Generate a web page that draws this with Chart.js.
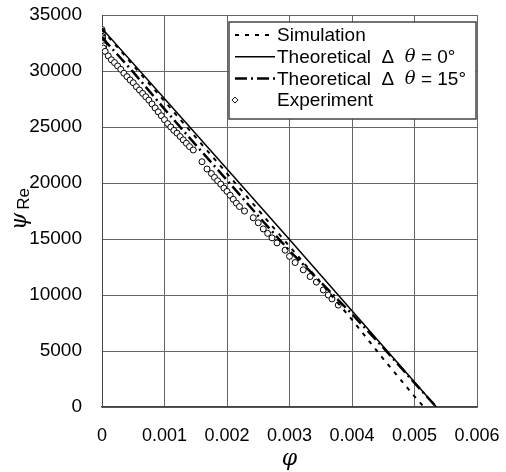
<!DOCTYPE html>
<html>
<head>
<meta charset="utf-8">
<script src="https://cdn.jsdelivr.net/npm/chart.js@4.4.0/dist/chart.umd.min.js"></script>
<style>
  html, body { margin: 0; background: #fff; }
</style>
</head>
<body>
<canvas id="grafico" width="506" height="472"></canvas>
<script>
// Simulation (short dashes)
const simPhi = [0, 0.001, 0.002, 0.003, 0.0035, 0.004, 0.0045, 0.005, 0.00515];
const simPsi = [33700, 27300, 20850, 14350, 11100, 7800, 4300, 950, 0];

// Theoretical, delta theta = 0 (solid)
const theo0Phi = [0, 0.0015, 0.003, 0.00535];
const theo0Psi = [33800, 24400, 14950, 0];

// Theoretical, delta theta = 15 (dash-dot)
const theo15Phi = [0, 0.0005, 0.001, 0.0015, 0.002, 0.0025, 0.003, 0.0035, 0.004, 0.0045, 0.005, 0.00535];
const theo15Psi = [33000, 29900, 26600, 23400, 20250, 17050, 13950, 11150, 8300, 5300, 2150, 0];

// Experiment (open markers)
const expPhi = [
  0, 0, 0, 0.00001, 0, 0.00001, 0, 0.00002, 0.00001, 0.00003, 0.00002,
  0.00005, 0.0001, 0.00015, 0.0002, 0.00025, 0.0003, 0.00035, 0.0004, 0.00045, 0.0005,
  0.00055, 0.0006, 0.00065, 0.0007, 0.00075, 0.0008, 0.00085, 0.0009, 0.00095, 0.001,
  0.00105, 0.0011, 0.00115, 0.0012, 0.00125, 0.0013, 0.00135, 0.0014, 0.00146, 0.0016,
  0.00168, 0.00175, 0.0018, 0.00185, 0.0019, 0.00195, 0.002, 0.00205, 0.0021, 0.00215,
  0.0022, 0.00228, 0.00242, 0.0025, 0.00258, 0.00265, 0.00272, 0.0028, 0.00293, 0.003,
  0.00309, 0.00322, 0.00333, 0.00343, 0.00354, 0.00362, 0.00368, 0.00378
];
const expPsi = [
  33700, 33550, 33400, 33250, 33100, 32950, 32800, 32600, 32450, 32250, 32050,
  31750, 31350, 31000, 30750, 30450, 30150, 29800, 29500, 29200, 28950,
  28600, 28300, 28000, 27700, 27400, 27050, 26700, 26350, 26000, 25650,
  25300, 25000, 24700, 24450, 24150, 23850, 23550, 23250, 22950, 21900,
  21250, 20850, 20500, 20200, 19900, 19550, 19250, 18900, 18550, 18200,
  17900, 17500, 16900, 16450, 15900, 15500, 15100, 14650, 14000, 13450,
  12900, 12250, 11650, 11150, 10450, 10000, 9650, 9100
];

const legendLabels = ["Simulation", "Theoretical  \u0394  \u03b8 = 0\u00b0", "Theoretical  \u0394  \u03b8 = 15\u00b0", "Experiment"];

const FONT = "'Liberation Sans', Arial, sans-serif";
const FONT_SERIF = "'DejaVu Serif', serif";

function pares(xs, ys) {
  return xs.map((x, i) => ({ x, y: ys[i] }));
}

// texto com o theta em itálico
function escreverRotulo(ctx, texto, x, y) {
  const partes = texto.split("\u03b8");
  let cx = x;
  partes.forEach((p, i) => {
    ctx.font = "19px " + FONT;
    ctx.fillText(p, cx, y);
    cx += ctx.measureText(p).width;
    if (i < partes.length - 1) {
      ctx.font = "italic 18px " + FONT_SERIF;
      ctx.fillText("\u03b8", cx, y);
      cx += ctx.measureText("\u03b8").width;
    }
  });
}

const caixaLegenda = {
  id: "caixaLegenda",
  afterDatasetsDraw(chart) {
    const { ctx, chartArea } = chart;
    const w = 247, h = 97;
    const x = chartArea.right - w - 1, y = chartArea.top + 7;
    ctx.save();
    ctx.fillStyle = "#fff";
    ctx.fillRect(x, y, w, h);
    ctx.strokeStyle = "#444";
    ctx.lineWidth = 1.5;
    ctx.strokeRect(x, y, w, h);
    ctx.textBaseline = "middle";
    chart.data.datasets.forEach((ds, i) => {
      const cy = y + 13 + i * 21.7;
      ctx.strokeStyle = "#000";
      if (ds.showLine === false) {
        ctx.lineWidth = 1;
        ctx.setLineDash([]);
        ctx.beginPath();
        ctx.moveTo(x + 6, cy - 3);
        ctx.lineTo(x + 9, cy);
        ctx.lineTo(x + 6, cy + 3);
        ctx.lineTo(x + 3, cy);
        ctx.closePath();
        ctx.stroke();
      } else {
        ctx.lineWidth = ds.borderWidth;
        ctx.setLineDash(ds.borderDash || []);
        ctx.beginPath();
        ctx.moveTo(x + 6, cy);
        ctx.lineTo(x + 46, cy);
        ctx.stroke();
      }
      ctx.setLineDash([]);
      ctx.fillStyle = "#000";
      escreverRotulo(ctx, ds.label, x + 48, cy + 1);
    });
    ctx.restore();
  }
};

const tituloY = {
  id: "tituloY",
  afterDraw(chart) {
    const ctx = chart.ctx;
    ctx.save();
    ctx.translate(21, 209);
    ctx.rotate(-Math.PI / 2);
    ctx.textBaseline = "middle";
    ctx.fillStyle = "#000";
    ctx.font = "italic 22px " + FONT_SERIF;
    const w1 = ctx.measureText("\u03c8").width;
    ctx.font = "17px " + FONT;
    const w2 = ctx.measureText("Re").width;
    const x0 = -(w1 + 3 + w2) / 2;
    ctx.font = "italic 22px " + FONT_SERIF;
    ctx.fillText("\u03c8", x0, -1);
    ctx.font = "17px " + FONT;
    ctx.fillText("Re", x0 + w1 + 3, 3);
    ctx.restore();
  }
};

new Chart(document.getElementById("grafico"), {
  type: "scatter",
  data: {
    datasets: [
      {
        label: legendLabels[0],
        data: pares(simPhi, simPsi),
        showLine: true,
        borderColor: "#000",
        borderWidth: 2,
        borderDash: [4, 6],
        pointRadius: 0,
        fill: false
      },
      {
        label: legendLabels[1],
        data: pares(theo0Phi, theo0Psi),
        showLine: true,
        borderColor: "#000",
        borderWidth: 1.5,
        pointRadius: 0,
        fill: false
      },
      {
        label: legendLabels[2],
        data: pares(theo15Phi, theo15Psi),
        showLine: true,
        borderColor: "#000",
        borderWidth: 2.5,
        borderDash: [12, 4, 2, 4],
        pointRadius: 0,
        fill: false
      },
      {
        label: legendLabels[3],
        data: pares(expPhi, expPsi),
        showLine: false,
        borderColor: "#000",
        backgroundColor: "#fff",
        pointBorderWidth: 1,
        pointRadius: 3,
        pointStyle: "circle"
      }
    ]
  },
  options: {
    responsive: false,
    animation: false,
    layout: { padding: { left: 0, top: 15, right: 29, bottom: 0 } },
    plugins: {
      legend: { display: false },
      tooltip: { enabled: false }
    },
    scales: {
      x: {
        type: "linear",
        min: 0,
        max: 0.006,
        afterFit: s => {
          s.height = 65;
          s.paddingLeft = 10;
          s.paddingRight = 10;
        },
        ticks: {
          stepSize: 0.001,
          color: "#000",
          padding: 18,
          font: { size: 18, family: FONT },
          callback: v => (Math.abs(v) < 1e-9 ? "0" : v.toFixed(3))
        },
        grid: { color: "#666", lineWidth: 1, tickLength: 0 },
        border: { color: "#444", width: 1.5 },
        title: {
          display: true,
          text: "\u03c6",
          color: "#000",
          padding: { top: 0, bottom: 0 },
          font: { size: 22, style: "italic", family: FONT_SERIF }
        }
      },
      y: {
        min: 0,
        max: 35000,
        afterFit: s => {
          s.width = 102;
          s.paddingTop = 10;
          s.paddingBottom = 10;
        },
        ticks: {
          stepSize: 5000,
          color: "#000",
          padding: 20,
          font: { size: 19, family: FONT },
          callback: v => String(v)
        },
        grid: { color: "#666", lineWidth: 1, tickLength: 0 },
        border: { color: "#444", width: 1 }
      }
    }
  },
  plugins: [caixaLegenda, tituloY]
});
</script>
</body>
</html>
